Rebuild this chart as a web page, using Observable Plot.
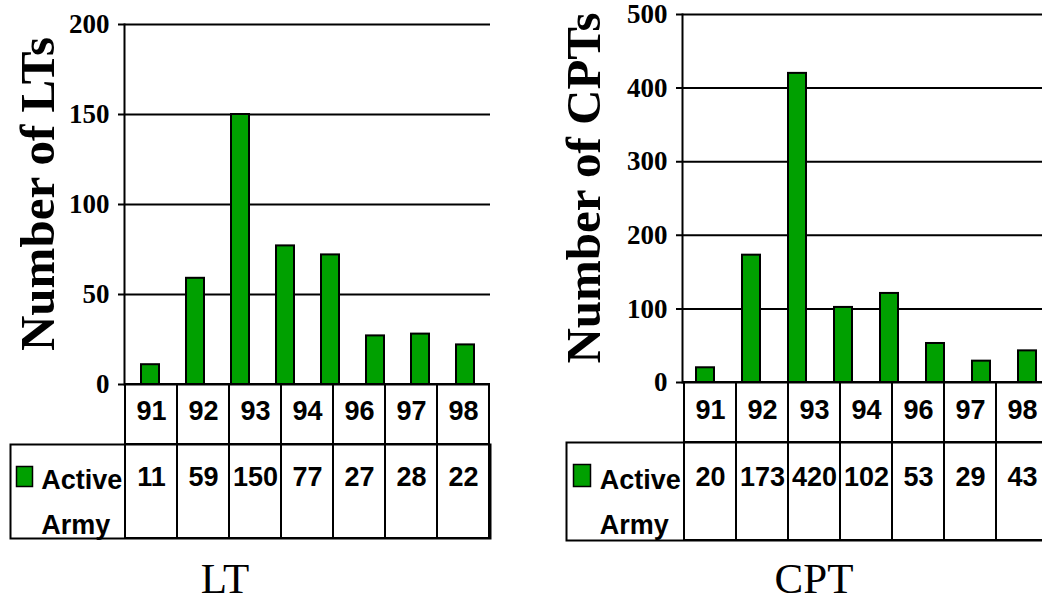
<!DOCTYPE html>
<html>
<head>
<meta charset="utf-8">
<script src="https://cdn.jsdelivr.net/npm/d3@7"></script>
<script src="https://cdn.jsdelivr.net/npm/@observablehq/plot@0.6"></script>
<style>
  html, body { margin: 0; padding: 0; background: #fff; }
  #root { position: relative; width: 1042px; height: 603px; overflow: hidden; background: #fff; }
  #root svg { position: absolute; }
  .title { position: absolute; font-family: "Liberation Serif", "Times New Roman", serif; font-size: 43px; line-height: 36px; text-align: center; color: #000; }
</style>
</head>
<body>
<div id="root"></div>
<script>
// ---- data ----
const barYears = ["91", "92", "93", "94", "95", "96", "97", "98"];
const ltBars = [11, 59, 150, 77, 72, 27, 28, 22];
const cptBars = [20, 173, 420, 102, 121, 53, 29, 43];
const tableYears = ["91", "92", "93", "94", "96", "97", "98"];
const ltTable = [11, 59, 150, 77, 27, 28, 22];
const cptTable = [20, 173, 420, 102, 53, 29, 43];
const ltTicks = [0, 50, 100, 150, 200];
const cptTicks = [0, 100, 200, 300, 400, 500];
const seriesName = "Active\nArmy";
const panelTitles = ["LT", "CPT"];
const yTitles = ["Number of LTs", "Number of CPTs"];

const GREEN = "#00a000";
const SERIF = "'Liberation Serif', 'Times New Roman', serif";
const SANS = "'Liberation Sans', Arial, sans-serif";
const TFS = 27; // table font size
const LH = 1.64; // legend line height (em)
const root = document.getElementById("root");

function place(svg, left, top) {
  svg.style.left = left + "px";
  svg.style.top = top + "px";
  root.appendChild(svg);
}

function panel(cfg) {
  const bars = barYears.map((y, i) => ({year: y, value: cfg.bars[i]}));
  const chart = Plot.plot({
    width: cfg.width, height: cfg.chartHeight,
    marginLeft: cfg.ml, marginRight: cfg.mr, marginTop: cfg.mt, marginBottom: 6,
    style: {background: "transparent", overflow: "visible"},
    x: {type: "band", domain: barYears, paddingInner: 0.6, paddingOuter: 0.3, axis: null},
    y: {domain: [0, cfg.ymax], ticks: cfg.ticks, axis: null},
    marks: [
      Plot.gridY(cfg.ticks, {stroke: "#000", strokeOpacity: 1, strokeWidth: 2, insetLeft: -6}),
      Plot.barY(bars, {x: "year", y: "value", fill: GREEN, stroke: "#000", strokeWidth: 2}),
      Plot.axisY(cfg.ticks, {tickSize: 0, tickPadding: 15, fontSize: 27, fontWeight: "bold", fontFamily: SERIF, fill: "#000", label: null}),
      Plot.frame({anchor: "left", stroke: "#000", strokeWidth: 2}),
      Plot.text([cfg.yTitle], {frameAnchor: "left", textAnchor: "middle", rotate: -90, dx: cfg.titleDx, dy: -10.5, fontSize: 49, fontWeight: "bold", fontFamily: SERIF, fill: "#000", lineAnchor: "middle"})
    ]
  });
  place(chart, cfg.left, 0);

  // header row of the data table
  const head = Plot.plot({
    width: cfg.width, height: cfg.headHeight,
    marginLeft: cfg.ml, marginRight: cfg.mr, marginTop: 0, marginBottom: 0,
    style: {background: "transparent", overflow: "visible"},
    x: {type: "band", domain: tableYears, padding: 0, axis: null},
    marks: [
      Plot.cell(tableYears, {x: d => d, fill: "none", stroke: "#000", strokeWidth: 2}),
      Plot.text(tableYears, {x: d => d, frameAnchor: "top", dy: cfg.headDy, lineAnchor: "top", fontSize: TFS, fontWeight: "bold", fontFamily: SANS, fill: "#000"})
    ]
  });
  place(head, cfg.left, cfg.headTop);

  // value row of the data table
  const vals = tableYears.map((y, i) => ({year: y, value: cfg.table[i]}));
  const row = Plot.plot({
    width: cfg.width, height: cfg.rowHeight,
    marginLeft: cfg.ml, marginRight: cfg.mr, marginTop: 0, marginBottom: 0,
    style: {background: "transparent", overflow: "visible"},
    x: {type: "band", domain: tableYears, padding: 0, axis: null},
    marks: [
      Plot.frame({stroke: "#000", strokeWidth: 2, insetLeft: -cfg.legendW}),
      Plot.cell(vals, {x: "year", fill: "none", stroke: "#000", strokeWidth: 2}),
      Plot.text(vals, {x: "year", text: "value", frameAnchor: "top", dy: cfg.rowDy, lineAnchor: "top", fontSize: TFS, fontWeight: "bold", fontFamily: SANS, fill: "#000"}),
      Plot.frame({fill: GREEN, stroke: "#000", strokeWidth: 1.5,
        insetLeft: cfg.swL, insetRight: cfg.plotW - cfg.swR, insetTop: cfg.swT, insetBottom: cfg.rowHeight - cfg.swB}),
      Plot.text([seriesName], {frameAnchor: "top-left", dx: cfg.labDx, dy: cfg.rowDy - (LH - 1) / 2 * TFS, textAnchor: "start", lineAnchor: "top", lineHeight: LH, fontSize: TFS, fontWeight: "bold", fontFamily: SANS, fill: "#000"})
    ]
  });
  place(row, cfg.left, cfg.rowTop);

  const t = document.createElement("div");
  t.className = "title";
  t.textContent = cfg.title;
  t.style.left = (cfg.titleX - 100) + "px";
  t.style.width = "200px";
  t.style.top = "561px";
  root.appendChild(t);
}

// Left panel (LT): frame x 124..490, y 24..384
panel({
  left: 0, width: 500, ml: 124, mr: 10, mt: 24, chartHeight: 390, plotW: 366,
  ymax: 200, ticks: ltTicks, bars: ltBars, table: ltTable, yTitle: yTitles[0], titleDx: -86.4,
  headTop: 384, headHeight: 60, headDy: 16,
  rowTop: 444, rowHeight: 94, rowDy: 22, legendW: 114,
  swL: -108, swR: 32 - 124, swT: 22, swB: 42, labDx: -83.3,
  title: panelTitles[0], titleX: 225
});

// Right panel (CPT): frame x 682..1050, y 14..382
panel({
  left: 540, width: 520, ml: 142, mr: 10, mt: 14, chartHeight: 388, plotW: 368,
  ymax: 500, ticks: cptTicks, bars: cptBars, table: cptTable, yTitle: yTitles[1], titleDx: -98.4,
  headTop: 382, headHeight: 60, headDy: 17.5,
  rowTop: 442, rowHeight: 98, rowDy: 24, legendW: 116,
  swL: -109, swR: 590 - 682, swT: 22, swB: 44, labDx: -82.7,
  title: panelTitles[1], titleX: 814
});
</script>
</body>
</html>
